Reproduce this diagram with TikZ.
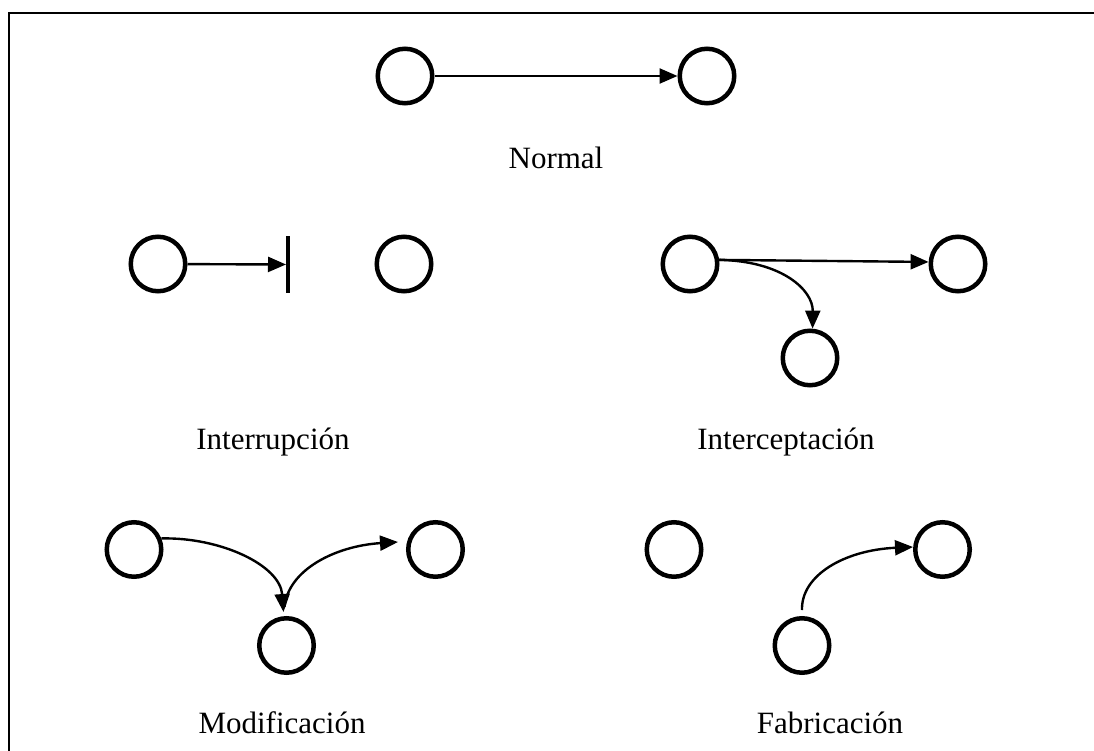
\documentclass[tikz,border=0pt]{standalone}
\usepackage{fontspec}
\setmainfont{Liberation Serif}
\usetikzlibrary{arrows.meta}
\begin{document}
\begin{tikzpicture}[x=1pt,y=-1pt,
  nodo/.style={circle,draw,line width=4.5pt,minimum size=54.5pt,inner sep=0pt},
  etiqueta/.style={font=\fontsize{31}{36}\selectfont,anchor=base},
  flecha/.style={line width=2.4pt,-{Triangle[length=18pt,width=15pt]}},
  borde/.style={line width=2.5pt}]
\useasboundingbox (0,0) rectangle (1094,751);
% border (top and left only)
\coordinate (bl) at (9,752);
\coordinate (tl) at (9,13);
\coordinate (tr) at (1095,13);
\draw[borde] (bl) -- (tl) -- (tr);

% Normal
\node[nodo] (na) at (405,76) {};
\node[nodo] (nb) at (707,76) {};
\draw[flecha] (na) -- (nb);
\node[etiqueta] (tn) at (556,169) {Normal};

% Interrupcion
\node[nodo] (ja) at (158,264) {};
\node[nodo] (jb) at (404,264) {};
\node[fill=black,inner sep=0pt,outer sep=0pt,minimum width=4pt,minimum height=57pt] (bar) at (288,264.5) {};
\draw[flecha] (ja) -- (bar);
\node[etiqueta] (tj) at (273,449) {Interrupción};

% Interceptacion
\node[nodo] (ia) at (690,264) {};
\node[nodo] (ib) at (958,264) {};
\node[nodo] (ic) at (810,358) {};
\draw[flecha] (ia.8) -- (ib.176);
\draw[flecha] (ia.8) .. controls (782,261) and (813,290) .. (ic.85);
\node[etiqueta] (ti) at (786,449) {Interceptación};

% Modificacion
\node[nodo] (ma) at (134,549.5) {};
\node[nodo] (mb) at (435.5,549.5) {};
\node[nodo] (mc) at (286.5,645.5) {};
\draw[flecha] (ma.22) .. controls (220,537) and (280,565) .. ([xshift=-3pt,yshift=4pt]mc.north);
\draw[flecha] ([xshift=-2pt,yshift=9pt]mc.north) .. controls (288,570) and (335,546) .. ([xshift=-8pt,yshift=7.5pt]mb.west);
\node[etiqueta] (tm) at (282,733) {Modificación};

% Fabricacion
\node[nodo] (fa) at (674,549.5) {};
\node[nodo] (fb) at (942.5,549.5) {};
\node[nodo] (fc) at (802,645.5) {};
\draw[flecha] ([yshift=6pt]fc.north) .. controls (801,575) and (845,550) .. ([yshift=2.5pt]fb.west);
\node[etiqueta] (tf) at (830,733) {Fabricación};
\end{tikzpicture}
\end{document}
